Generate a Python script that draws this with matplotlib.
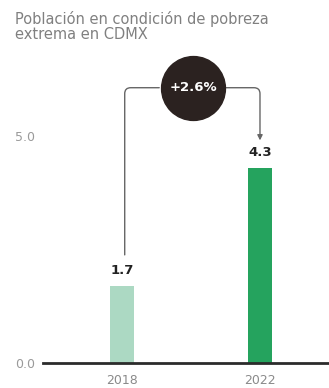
import matplotlib.pyplot as plt

# Data
years = ["2018", "2022"]
values = [1.7, 4.3]
change_label = "+2.6%"
bar_colors = ["#acd9c3", "#25a35e"]
title = "Población en condición de pobreza\nextrema en CDMX"

W, H = 329, 388
fig = plt.figure(figsize=(W / 100, H / 100), dpi=100)

# axes placed in pixel terms: left 43, right 329, baseline 363, top 60
ax = fig.add_axes([43 / W, (H - 363) / H, (W - 43) / W, (363 - 60) / H])
ax.set_xlim(-0.572, 1.5)
ax.set_ylim(0, 6.67)

x = list(range(len(years)))
ax.bar(x, values, width=0.18, color=bar_colors, zorder=2)

for xi, v in zip(x, values):
    ax.text(xi, v + 0.2, f"{v:.1f}", ha="center", va="bottom",
            fontsize=9.5, fontweight="bold", color="#222222")

# baseline
ax.axhline(0, color="#2b2b2b", lw=2, zorder=3, clip_on=False)

for s in ax.spines.values():
    s.set_visible(False)
ax.set_yticks([0, 5])
ax.set_yticklabels(["0.0", "5.0"])
ax.set_xticks(x)
ax.set_xticklabels(years)
ax.tick_params(axis="y", length=0, pad=6, labelsize=9, labelcolor="#9a9a9a")
ax.tick_params(axis="x", length=0, pad=8, labelsize=9, labelcolor="#8a8a8a")

# connector from first bar to second bar through the change bubble
ytop = 6.06
ax.annotate("", xy=(0.27, ytop), xytext=(0.02, values[0] + 0.68),
            arrowprops=dict(arrowstyle="-", color="#666666", lw=1,
                            shrinkA=0, shrinkB=0,
                            connectionstyle="angle,angleA=90,angleB=0,rad=6"))
ax.annotate("", xy=(1.0, values[1] + 0.6), xytext=(0.75, ytop),
            arrowprops=dict(arrowstyle="-|>,head_length=0.3,head_width=0.15",
                            color="#666666", lw=1, shrinkA=0, shrinkB=0,
                            connectionstyle="angle,angleA=0,angleB=90,rad=6"))
ax.plot([0.515], [ytop], marker="o", markersize=46, color="#2b2220",
        zorder=5, clip_on=False)
ax.text(0.515, ytop, change_label, ha="center", va="center", fontsize=9.5,
        fontweight="bold", color="white", zorder=6)

fig.text(15 / W, 1 - 11 / H, title, ha="left", va="top", fontsize=10.5,
         color="#808080", linespacing=1.0)

fig.savefig("out.png", dpi=100)
